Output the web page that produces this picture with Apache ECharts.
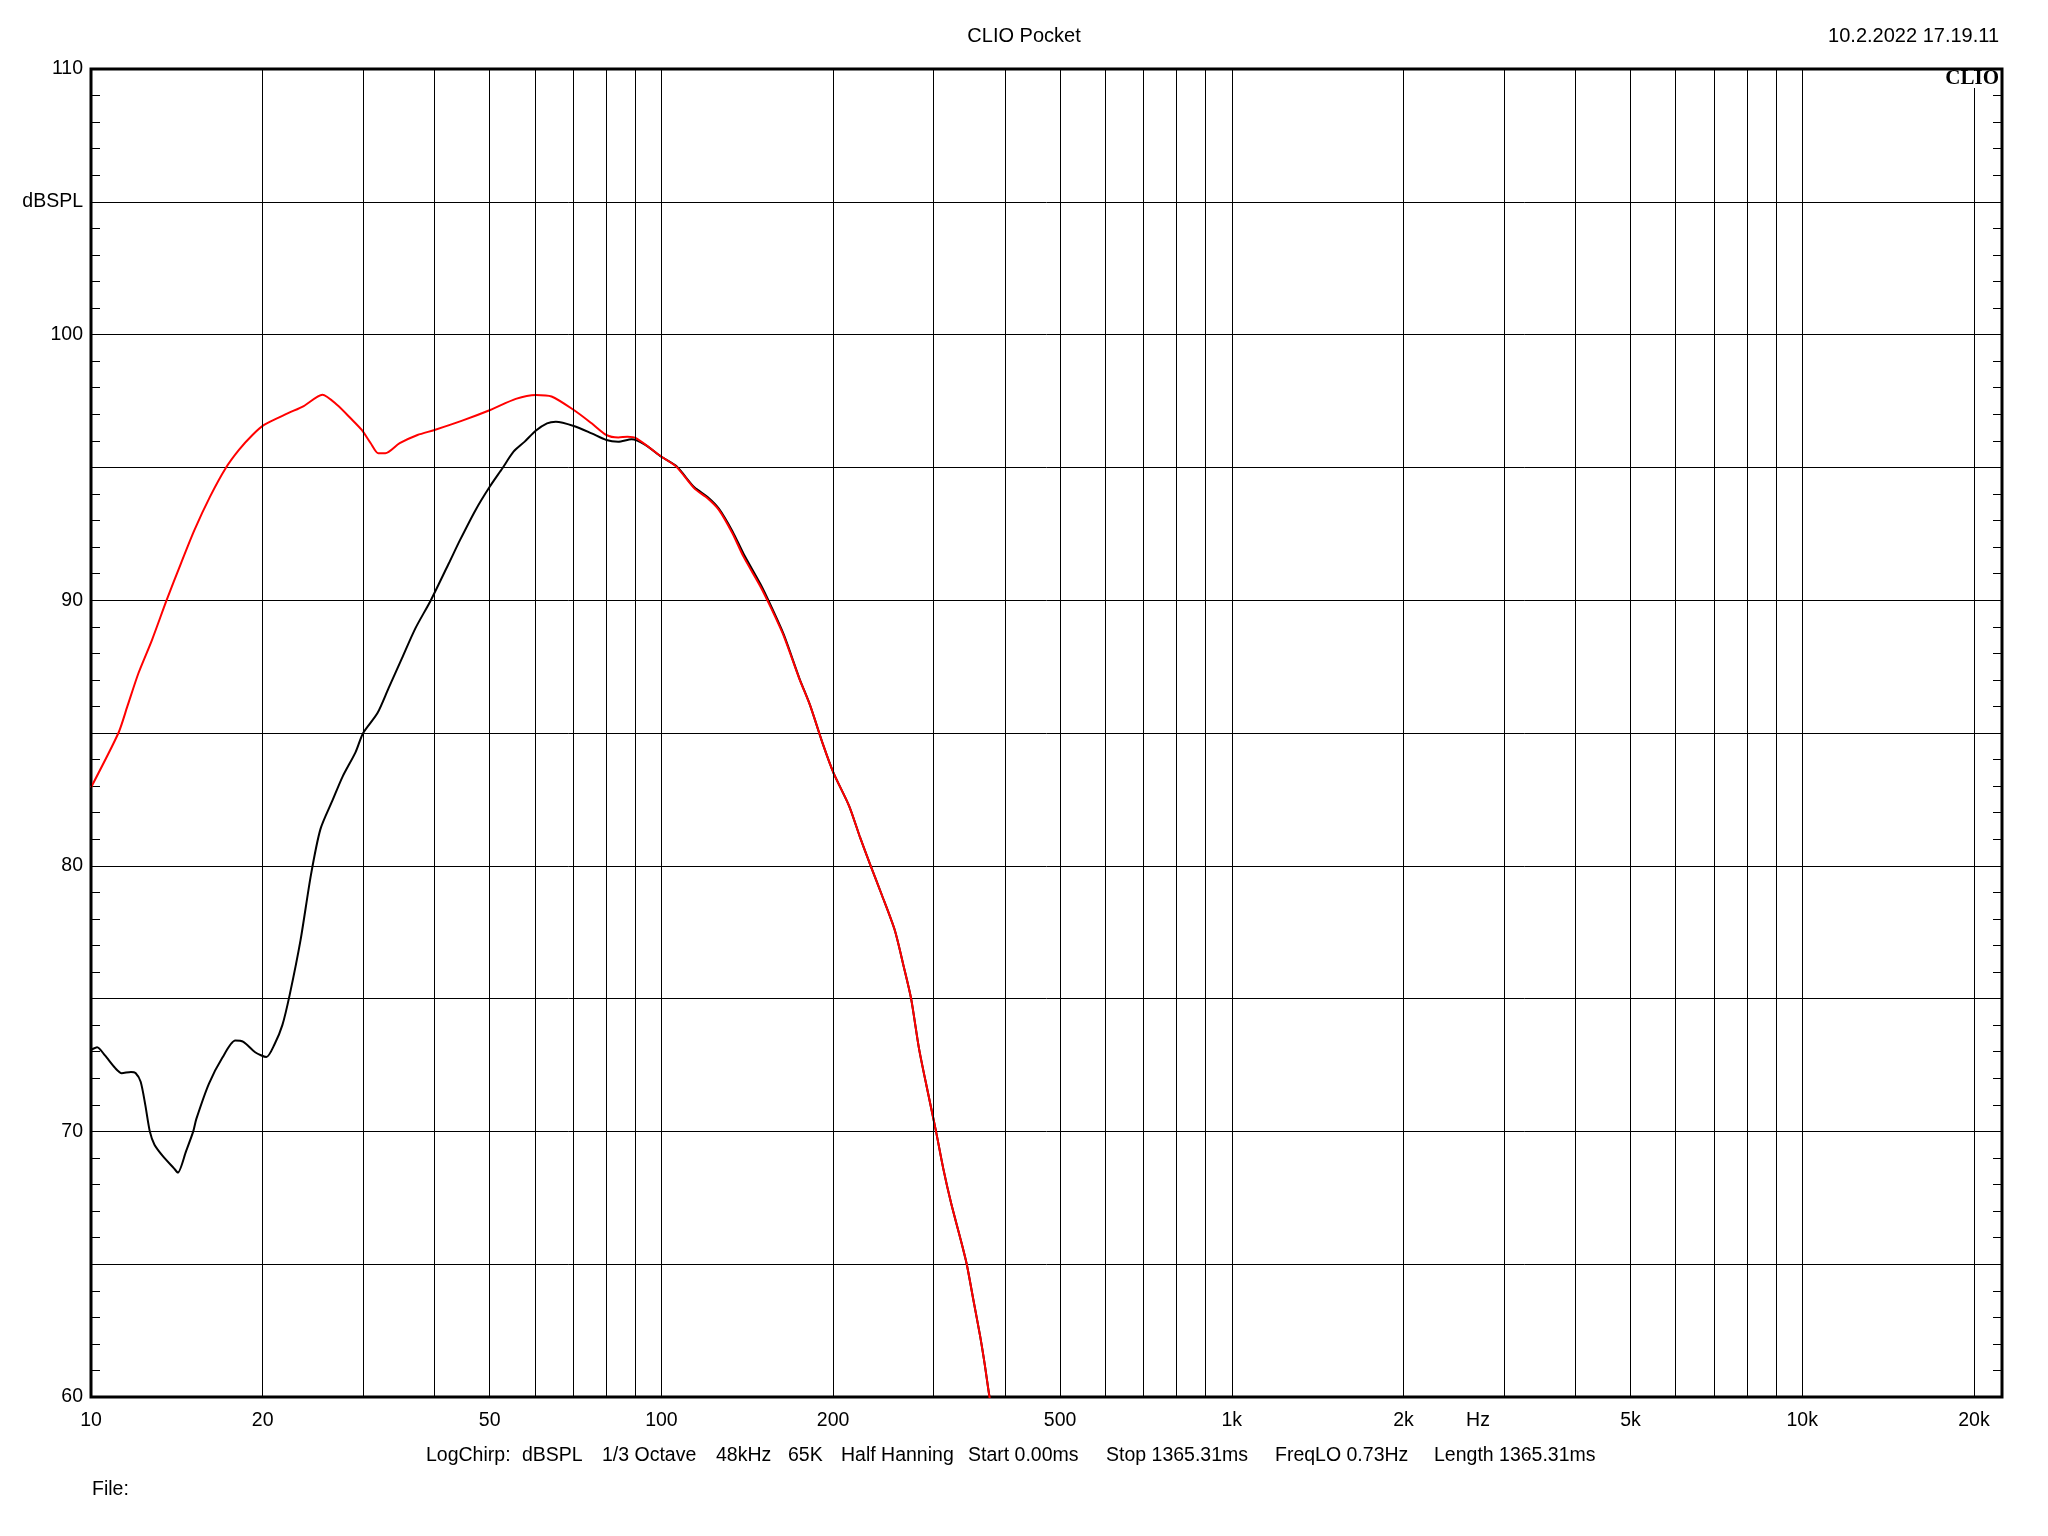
<!DOCTYPE html>
<html><head><meta charset="utf-8">
<script src="https://cdn.jsdelivr.net/npm/echarts@6/dist/echarts.min.js"></script>
<style>html,body{margin:0;padding:0;background:#fff}#c{width:2048px;height:1536px}</style>
</head><body><div id="c"></div>
<script>
// ---------- data ----------
const redFreq = [10, 11.17, 11.58, 12.11, 12.79, 13.57, 14.38, 15.18, 16.17, 17.22, 18.17, 19.19, 20.11, 22.16, 23.6, 25.45, 27.02, 28.52, 29.83, 30.93, 31.89, 32.81, 34.77, 37.36, 40.02, 44.75, 50.1, 55.55, 60.23, 64.18, 70.22, 75.45, 80.1, 84.06, 87.2, 90.4, 100.1, 106.2, 114.2, 120.6, 126.1, 133.2, 139.3, 149.2, 155.5, 163.9, 174.6, 182.2, 192, 200.3, 213.3, 222.5, 232.2, 243.3, 256.4, 266, 274, 283, 293, 303, 312, 322, 334, 343, 352, 362, 369, 376, 382];
const redDb   = [82.95, 85.0, 86.0, 87.25, 88.5, 90.0, 91.39, 92.64, 93.9, 94.97, 95.66, 96.22, 96.6, 97.04, 97.31, 97.74, 97.35, 96.85, 96.41, 95.91, 95.53, 95.53, 95.91, 96.22, 96.41, 96.76, 97.16, 97.58, 97.73, 97.67, 97.16, 96.66, 96.22, 96.13, 96.15, 96.09, 95.4, 95.03, 94.21, 93.83, 93.4, 92.52, 91.64, 90.51, 89.73, 88.65, 87.03, 86.05, 84.57, 83.5, 82.26, 81.13, 80.05, 78.92, 77.59, 76.2, 75.0, 73.1, 71.5, 70.0, 68.6, 67.3, 66.0, 65.0, 63.7, 62.3, 61.2, 60.0, 59.2];

const blackFreq = [10, 10.25, 10.57, 11.03, 11.32, 11.75, 11.97, 12.22, 12.45, 12.68, 12.92, 13.4, 13.98, 14.2, 14.67, 15.11, 15.3, 16.1, 17.0, 17.9, 18.5, 19.4, 20.3, 20.97, 21.65, 22.3, 23.3, 24.3, 25.25, 26.53, 27.6, 29.1, 30, 31.77, 33.23, 35.08, 37.04, 39.43, 42.4, 44.37, 47.24, 50, 52.64, 55.05, 57.59, 60.2, 63.02, 65.31, 70.2, 75.45, 80.1, 84, 88.7, 93.7, 100, 106.2, 114.2, 120.6, 126.1, 133.2, 139.3, 149.2, 155.5, 163.9, 174.6, 182.2, 192, 200.3, 213.3, 222.5, 232.2, 243.3, 256.4, 266, 274, 283, 293, 303, 312, 322, 334, 343, 352, 362, 369, 376, 382];
const blackDb   = [73.07, 73.17, 72.87, 72.38, 72.19, 72.24, 72.2, 71.87, 71.0, 70.0, 69.5, 69.04, 68.61, 68.45, 69.24, 70.0, 70.47, 71.8, 72.78, 73.42, 73.37, 72.98, 72.8, 73.27, 74.0, 75.14, 77.2, 79.66, 81.38, 82.48, 83.35, 84.28, 85.0, 85.74, 86.68, 87.81, 88.94, 90.0, 91.39, 92.27, 93.4, 94.27, 94.97, 95.59, 95.97, 96.38, 96.66, 96.72, 96.56, 96.28, 96.03, 95.97, 96.06, 95.85, 95.4, 95.05, 94.25, 93.88, 93.45, 92.6, 91.75, 90.6, 89.8, 88.7, 87.05, 86.05, 84.57, 83.5, 82.26, 81.13, 80.05, 78.92, 77.59, 76.2, 75.0, 73.1, 71.5, 70.0, 68.6, 67.3, 66.0, 65.0, 63.7, 62.3, 61.2, 60.0, 59.2];

const gridFreqs = [10, 20, 30, 40, 50, 60, 70, 80, 90, 100, 200, 300, 400, 500, 600, 700, 800, 900, 1000, 2000, 3000, 4000, 5000, 6000, 7000, 8000, 9000, 10000, 20000];
const xTickValues = [10, 20, 50, 100, 200, 500, 1000, 2000, 5000, 10000, 20000];
const xTickLabels = ['10', '20', '50', '100', '200', '500', '1k', '2k', '5k', '10k', '20k'];
const yTickLabels = {60: '60', 70: '70', 80: '80', 90: '90', 100: '100', 105: 'dBSPL', 110: '110'};

const titleText = 'CLIO Pocket';
const dateText = '10.2.2022 17.19.11';
const logoText = 'CLIO';
const unitText = 'Hz';
const infoItems = ['LogChirp:', 'dBSPL', '1/3 Octave', '48kHz', '65K', 'Half Hanning', 'Start 0.00ms', 'Stop 1365.31ms', 'FreqLO 0.73Hz', 'Length 1365.31ms'];
const fileText = 'File:';

// ---------- layout ----------
const FONT = "'Liberation Sans', Arial, sans-serif";
const infoX = [426, 522, 602, 716, 788, 841, 968, 1106, 1275, 1434];

const zip = (a, b) => a.map((v, i) => [v, b[i]]);
const labelMap = {};
xTickValues.forEach((v, i) => labelMap[v] = xTickLabels[i]);

const chart = echarts.init(document.getElementById('c'), null, {renderer: 'canvas'});

const tickCommon = {
  axisLine: {show: false},
  axisTick: {show: true, inside: true, length: 9, lineStyle: {color: '#000', width: 1}},
  minorTick: {show: true, splitNumber: 5, length: 9, lineStyle: {color: '#000', width: 1}},
};

const graphics = [
  {type: 'text', x: 1024, y: 36, style: {text: titleText, font: '20px ' + FONT, fill: '#000', align: 'center', verticalAlign: 'middle'}},
  {type: 'text', x: 1999, y: 36, style: {text: dateText, font: '20px ' + FONT, fill: '#000', align: 'right', verticalAlign: 'middle'}},
  {type: 'rect', shape: {x: 1944, y: 71, width: 56, height: 17}, style: {fill: '#fff'}, z: 100},
  {type: 'text', x: 1999, y: 79, z: 101, style: {text: logoText, font: 'bold 21px "Liberation Serif", "DejaVu Serif", serif', fill: '#000', align: 'right', verticalAlign: 'middle'}},
  {type: 'text', x: 1478, y: 1421, style: {text: unitText, font: '19.5px ' + FONT, fill: '#000', align: 'center', verticalAlign: 'middle'}},
  {type: 'text', x: 92, y: 1490, style: {text: fileText, font: '19.5px ' + FONT, fill: '#000', align: 'left', verticalAlign: 'middle'}}
];
infoItems.forEach((t, i) => graphics.push({type: 'text', x: infoX[i], y: 1456, style: {text: t, font: '19.5px ' + FONT, fill: '#000', align: 'left', verticalAlign: 'middle'}}));

const option = {
  animation: false,
  backgroundColor: '#fff',
  grid: {left: 91, right: 46, top: 69, bottom: 139, show: true, borderColor: '#000', borderWidth: 3, backgroundColor: 'transparent', containLabel: false},
  xAxis: {
    type: 'log', logBase: 10, min: 10, max: 22400,
    axisLine: {show: false}, axisTick: {show: false}, splitLine: {show: false}, minorSplitLine: {show: false},
    axisLabel: {
      customValues: xTickValues,
      formatter: v => labelMap[Math.round(v)] || '',
      fontSize: 19.5, fontFamily: FONT, color: '#000', margin: 14
    }
  },
  yAxis: [
    Object.assign({
      type: 'value', min: 60, max: 110, interval: 5, position: 'left',
      splitLine: {show: true, lineStyle: {color: '#000', width: 1}},
      axisLabel: {showMinLabel: true, showMaxLabel: true, formatter: v => yTickLabels[v] || '', fontSize: 19.5, fontFamily: FONT, color: '#000', margin: 8}
    }, tickCommon),
    Object.assign({
      type: 'value', min: 60, max: 110, interval: 5, position: 'right',
      splitLine: {show: false}, axisLabel: {show: false}
    }, tickCommon)
  ],
  series: [
    {
      type: 'line', data: [], z: 1, silent: true,
      markLine: {
        silent: true, animation: false, symbol: ['none', 'none'], label: {show: false},
        lineStyle: {color: '#000', width: 1, type: 'solid'},
        emphasis: {disabled: true},
        data: gridFreqs.map(f => ({xAxis: f}))
      }
    },
    {
      name: 'black', type: 'line', z: 3, data: zip(blackFreq, blackDb), showSymbol: false, smooth: 0.25,
      lineStyle: {color: '#000', width: 2}, itemStyle: {color: '#000'}, clip: true
    },
    {
      name: 'red', type: 'line', z: 4, data: zip(redFreq, redDb), showSymbol: false, smooth: 0.25,
      lineStyle: {color: '#ff0000', width: 2}, itemStyle: {color: '#ff0000'}, clip: true
    }
  ],
  graphic: graphics
};
chart.setOption(option);
</script></body></html>
